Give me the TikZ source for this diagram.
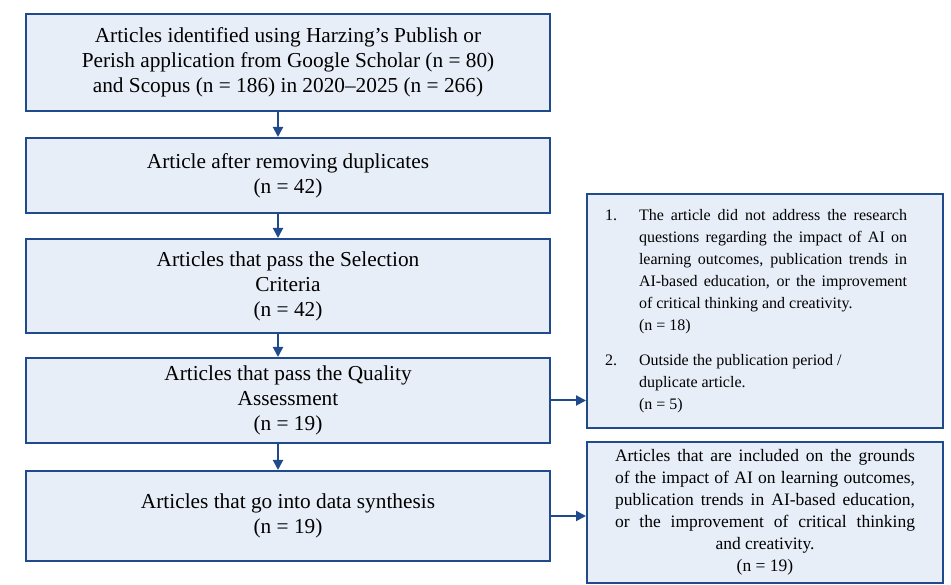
\documentclass[tikz,border=0pt]{standalone}
\usepackage{fontspec}
\setmainfont{Liberation Serif}
\usetikzlibrary{arrows.meta}
\definecolor{flowblue}{HTML}{1F4A8C}
\definecolor{flowfill}{HTML}{E8EEF8}
\tikzset{
flowbox/.style={rectangle,draw=flowblue,fill=flowfill,line width=2pt,inner sep=0pt,align=center,font=\fontsize{21.3}{25}\selectfont},
sidebox/.style={flowbox,font=\fontsize{16}{22}\selectfont},
flowarrow/.style={draw=flowblue,line width=2pt,-{Triangle[length=10pt,width=10pt]}}
}
\begin{document}
\begin{tikzpicture}[x=1pt,y=1pt]
\useasboundingbox (0,0) rectangle (951,585);
\node[flowbox,minimum width=524,minimum height=97] (ident) at (288,522.5) {Articles identified using Harzing’s Publish or\\Perish application from Google Scholar (n = 80)\\and Scopus (n = 186) in 2020–2025 (n = 266)};
\node[flowbox,minimum width=524,minimum height=75] (dedup) at (288,409.5) {Article after removing duplicates\\(n = 42)};
\node[flowbox,minimum width=524,minimum height=94] (select) at (288,299) {Articles that pass the Selection\\Criteria\\(n = 42)};
\node[flowbox,minimum width=524,minimum height=85] (quality) at (288,184.5) {Articles that pass the Quality\\Assessment\\(n = 19)};
\node[flowbox,minimum width=524,minimum height=90] (synth) at (288,69) {Articles that go into data synthesis\\(n = 19)};

\node[sidebox,minimum width=356,minimum height=234] (excl) at (765,274) {\begin{tabular}{@{}p{34pt}@{}l@{\hspace{18pt}}}
1. & \makebox[268pt][s]{The article did not address the research}\\
 & \makebox[268pt][s]{questions regarding the impact of AI on}\\
 & \makebox[268pt][s]{learning outcomes, publication trends in}\\
 & \makebox[268pt][s]{AI-based education, or the improvement}\\
 & of critical thinking and creativity.\\
 & (n = 18)\\[13pt]
2. & Outside the publication period /\\
 & duplicate article.\\
 & (n = 5)
\end{tabular}};
\node[sidebox,font=\fontsize{17.5}{22}\selectfont,minimum width=356,minimum height=141] (incl) at (765,72.5) {\makebox[300pt][s]{Articles that are included on the grounds}\\\makebox[300pt][s]{of the impact of AI on learning outcomes,}\\\makebox[300pt][s]{publication trends in AI-based education,}\\\makebox[300pt][s]{or the improvement of critical thinking}\\and creativity.\\(n = 19)};

\coordinate (ax) at (278,0);
\draw[flowarrow] (ident.south -| ax) -- (dedup.north -| ax);
\draw[flowarrow] (dedup.south -| ax) -- (select.north -| ax);
\draw[flowarrow] (select.south -| ax) -- (quality.north -| ax);
\draw[flowarrow] (quality.south -| ax) -- (synth.north -| ax);
\draw[flowarrow] (quality.east) -- (quality.east -| excl.west);
\draw[flowarrow] (synth.east) -- (synth.east -| incl.west);
\end{tikzpicture}
\end{document}
